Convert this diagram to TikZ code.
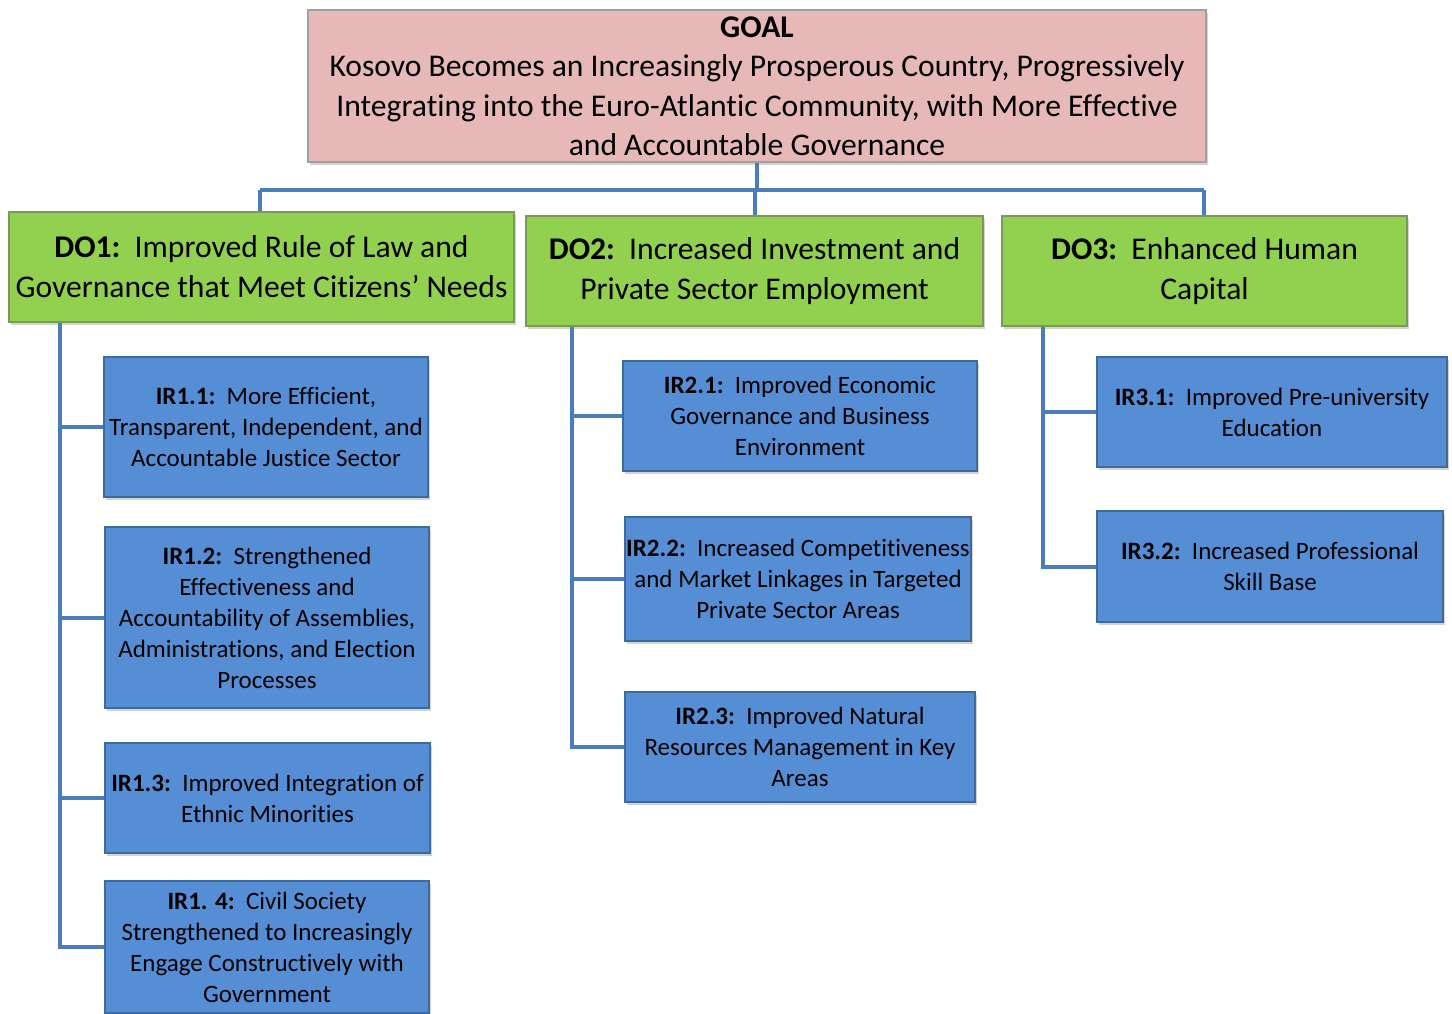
\documentclass[tikz,border=0pt]{standalone}
\usepackage{fontspec}
\setmainfont{Carlito}[Ligatures={NoCommon}]
\usetikzlibrary{shadows}
\definecolor{goalfill}{HTML}{E6B9B8}
\definecolor{goalline}{HTML}{A0A0A0}
\definecolor{dofill}{HTML}{92D050}
\definecolor{doline}{HTML}{7A9A5A}
\definecolor{irfill}{HTML}{558ED5}
\definecolor{irline}{HTML}{3F6A9E}
\definecolor{connc}{HTML}{4A7EBB}
\begin{document}
\begin{tikzpicture}[x=1pt,y=-1pt,
  basebox/.style={draw, line width=1.5pt, inner sep=0pt, align=center,
    drop shadow={opacity=0.35, shadow xshift=2pt, shadow yshift=-3pt}},
  goalbox/.style={basebox, fill=goalfill, draw=goalline, font=\fontsize{31.6}{39.5}\selectfont},
  dobox/.style={basebox, fill=dofill, draw=doline, font=\fontsize{31.6}{40}\selectfont},
  irbox/.style={basebox, fill=irfill, draw=irline, font=\fontsize{25}{31}\selectfont},
  conn/.style={draw=connc, line width=4pt}]
\useasboundingbox (0,0) rectangle (1452,1013);

\node[goalbox, minimum width=898, minimum height=152] (goal) at (757,86)
  {\textbf{GOAL}\\Kosovo Becomes an Increasingly Prosperous Country, Progressively\\Integrating into the Euro-Atlantic Community, with More Effective\\and Accountable Governance};

\node[dobox, minimum width=505, minimum height=110] (do1) at (261.5,267)
  {\textbf{DO1:}\ \ Improved Rule of Law and\\Governance that Meet Citizens’ Needs};
\node[dobox, minimum width=457, minimum height=110] (do2) at (754.5,271)
  {\textbf{DO2:}\ \ Increased Investment and\\Private Sector Employment};
\node[dobox, minimum width=405, minimum height=110] (do3) at (1204.5,271)
  {\textbf{DO3:}\ \ Enhanced Human\\Capital};

\node[irbox, minimum width=324, minimum height=140] (ir11) at (266,427)
  {\textbf{IR1.1:}\ \ More Efficient,\\Transparent, Independent, and\\Accountable Justice Sector};
\node[irbox, minimum width=324, minimum height=181] (ir12) at (267,617.5)
  {\textbf{IR1.2:}\ \ Strengthened\\Effectiveness and\\Accountability of Assemblies,\\Administrations, and Election\\Processes};
\node[irbox, minimum width=325, minimum height=110] (ir13) at (267.5,798)
  {\textbf{IR1.3:}\ \ Improved Integration of\\Ethnic Minorities};
\node[irbox, minimum width=324, minimum height=132] (ir14) at (267,947)
  {\textbf{IR1. 4:}\ \ Civil Society\\Strengthened to Increasingly\\Engage Constructively with\\Government};

\node[irbox, minimum width=354, minimum height=110] (ir21) at (800,416)
  {\textbf{IR2.1:}\ \ Improved Economic\\Governance and Business\\Environment};
\node[irbox, minimum width=346, minimum height=124] (ir22) at (798,579)
  {\textbf{IR2.2:}\ \ Increased Competitiveness\\and Market Linkages in Targeted\\Private Sector Areas};
\node[irbox, minimum width=350, minimum height=110] (ir23) at (800,747)
  {\textbf{IR2.3:}\ \ Improved Natural\\Resources Management in Key\\Areas};

\node[irbox, minimum width=350, minimum height=110] (ir31) at (1272,412)
  {\textbf{IR3.1:}\ \ Improved Pre-university\\Education};
\node[irbox, minimum width=346, minimum height=111] (ir32) at (1270,566.5)
  {\textbf{IR3.2:}\ \ Increased Professional\\Skill Base};

% top bus
\coordinate (busL) at (260,190);
\coordinate (busR) at (1204,190);
\draw[conn] (goal.south) -- (goal.south |- busL);
\draw[conn] (busL) -- (busR);
\draw[conn] (busL) -- (busL |- do1.north);
\draw[conn] (do2.north) -- (do2.north |- busL);
\draw[conn] (busR) -- (busR |- do3.north);

% DO1 tree
\coordinate (t1) at (60,0);
\draw[conn] (do1.south -| t1) |- (ir14.west);
\draw[conn] (t1 |- ir11.west) -- (ir11.west);
\draw[conn] (t1 |- ir12.west) -- (ir12.west);
\draw[conn] (t1 |- ir13.west) -- (ir13.west);

% DO2 tree
\coordinate (t2) at (572,0);
\draw[conn] (do2.south -| t2) |- (ir23.west);
\draw[conn] (t2 |- ir21.west) -- (ir21.west);
\draw[conn] (t2 |- ir22.west) -- (ir22.west);

% DO3 tree
\coordinate (t3) at (1043,0);
\draw[conn] (do3.south -| t3) |- (ir32.west);
\draw[conn] (t3 |- ir31.west) -- (ir31.west);
\end{tikzpicture}
\end{document}
